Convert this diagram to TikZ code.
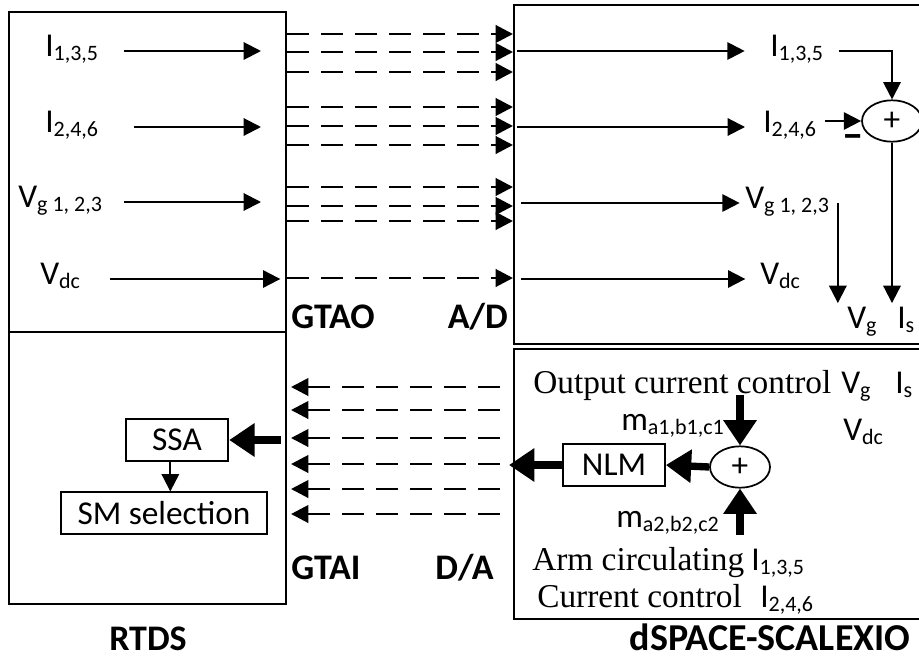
\documentclass[tikz,border=0pt]{standalone}
\usepackage{fontspec}
\setmainfont{Liberation Serif}
\setsansfont{Carlito}
\usetikzlibrary{arrows.meta,shapes.geometric,fit}
\newcommand\subi[1]{\textsubscript{\fontsize{16.5}{17}\selectfont #1}}

\begin{document}
\begin{tikzpicture}[x=0.75pt, y=-0.75pt,
  marco/.style={draw, line width=1.5pt, inner sep=0pt},
  caja/.style={draw, line width=1.3pt, font=\sffamily\fontsize{25}{30}\selectfont,
               inner sep=0pt, minimum height=31pt},
  suma/.style={ellipse, draw, line width=1.3pt, font=\sffamily\fontsize{25}{30}\selectfont,
               inner sep=0pt, minimum width=45pt, minimum height=31pt},
  rotulo/.style={font=\sffamily\fontsize{25}{30}\selectfont, inner sep=0pt},
  senal/.style={rotulo, text height=7.5pt, text depth=0pt, anchor=west},
  serif/.style={font=\rmfamily\fontsize{25}{30}\selectfont, inner sep=0pt, anchor=base west},
  puerto/.style={font=\sffamily\bfseries\fontsize{27}{32}\selectfont, inner sep=0pt},
  flecha/.style={-{Triangle[length=13pt, width=13pt]}, line width=1.5pt},
  punteada/.style={flecha, line width=2.2pt, dash pattern=on 16.5pt off 9pt},
  gruesa/.style={-{Triangle[length=19pt, width=24pt]}, line width=5.5pt}]
  \useasboundingbox (0,0) rectangle (919,660);
  \node[marco, fit={(9,12) (286,332)}] (rtdsA) {};
  \node[marco, fit={(9,332) (286,604)}] (rtdsB) {};
  \node[marco, fit={(514,5) (940,344)}] (dspA) {};
  \node[marco, fit={(514,349) (940,619)}] (dspB) {};
  \node[senal] (i135)  at (45,51)  {I\subi{1,3,5}};
  \node[senal] (i246)  at (45,127) {I\subi{2,4,6}};
  \node[senal] (vg123) at (18,202) {V\subi{g 1, 2,3}};
  \node[senal] (vdc)   at (40,279) {V\subi{dc}};
  \draw[flecha, shorten <=19pt, shorten >=19.5pt] (i135.east) -- (i135.east -| rtdsA.east);
  \draw[flecha, shorten <=26pt, shorten >=19.5pt] (i246.east) -- (i246.east -| rtdsA.east);
  \draw[flecha, shorten <=16pt, shorten >=19.5pt] (vg123.east) -- (vg123.east -| rtdsA.east);
  \draw[flecha, shorten <=22pt, shorten >=5pt] (vdc.east) -- (vdc.east -| rtdsA.east);
  \foreach \y in {34,52,72,107,126,145,187,206,221,278}
    \draw[punteada] (rtdsA.east |- 0,\y) -- (dspA.west |- 0,\y);
  \node[puerto, anchor=west] (gtao) at (291,317) {GTAO};
  \node[puerto, anchor=east] (ad)   at (508,317) {A/D};
  \node[senal] (r135) at (770,51)  {I\subi{1,3,5}};
  \node[senal] (r246) at (763,127) {I\subi{2,4,6}};
  \node[senal] (rvg)  at (745,203) {V\subi{g 1, 2,3}};
  \node[senal] (rdc)  at (760,279) {V\subi{dc}};
  \draw[flecha, shorten <=3pt, shorten >=19pt]   (dspA.west |- r135) -- (r135.west);
  \draw[flecha, shorten <=3pt, shorten >=13.5pt] (dspA.west |- r246) -- (r246.west);
  \draw[flecha, shorten <=6pt, shorten >=4pt]    (dspA.west |- rvg) -- (rvg.west);
  \draw[flecha, shorten <=6pt, shorten >=11pt]   (dspA.west |- rdc) -- (rdc.west);
  \node[suma] (sumA) at (892,121) {+};
  \node[puerto, font=\sffamily\bfseries\fontsize{32}{32}\selectfont] (menos) at (853,142) {--};
  \draw[flecha, shorten <=11pt] (r135.east) -| (sumA.north);
  \draw[flecha, shorten <=6pt] (r246.east |- sumA.west) -- (sumA.west);
  \node[senal] (vgo) at (847,323) {V\subi{g}};
  \node[senal] (iso) at (897,323) {I\subi{s}};
  \coordinate (tapvg) at ([xshift=6pt]rvg.east);
  \draw[flecha, shorten >=11pt] (tapvg) -- (tapvg |- vgo.north);
  \draw[flecha, shorten >=11pt] (sumA.south) -- (sumA.south |- iso.north);
  \node[caja, minimum width=77pt]    (ssa) at (177,440) {SSA};
  \node[caja, minimum width=154.5pt] (sm)  at (164,513) {SM selection};
  \coordinate (ssaout) at ([xshift=-5pt]ssa.south);
  \draw[flecha] (ssaout) -- (ssaout |- sm.north);
  \draw[gruesa, shorten <=4.5pt] (rtdsB.east |- ssa.east) -- (ssa.east);
  \foreach \y in {387,410,438,464,489,514}
    \draw[punteada, shorten <=10pt, shorten >=3pt] (dspB.west |- 0,\y) -- (rtdsB.east |- 0,\y);
  \node[puerto, anchor=west] (gtai) at (291,568) {GTAI};
  \node[puerto, anchor=east] (da)   at (494,568) {D/A};
  \node[serif] (occ) at (533,393) {Output current control};
  \node[rotulo, anchor=base west] (vgB)  at (841,393) {V\subi{g}};
  \node[rotulo, anchor=base west] (isB)  at (895,393) {I\subi{s}};
  \node[rotulo, anchor=base west] (vdcB) at (843,440) {V\subi{dc}};
  \node[rotulo, anchor=base west] (ma1)  at (621,430) {m\subi{a1,b1,c1}};
  \node[rotulo, anchor=base west] (ma2)  at (616,527) {m\subi{a2,b2,c2}};
  \node[serif] (arm) at (532,570) {Arm circulating};
  \node[rotulo, anchor=base west] (ib135) at (751,570) {I\subi{1,3,5}};
  \node[serif] (cc) at (537,607) {Current control};
  \node[rotulo, anchor=base west] (ib246) at (760,607) {I\subi{2,4,6}};
  \node[suma] (sumB) at (740,467) {+};
  \node[caja, minimum width=76.5pt] (nlm) at (614,465) {NLM};
  \draw[gruesa, shorten <=1.5pt] (sumB.north |- occ.base) -- (sumB.north);
  \draw[gruesa, shorten <=9pt] (sumB.south |- arm.north) -- (sumB.south);
  \draw[gruesa] (sumB.west) -- (nlm.east);
  \draw[gruesa, shorten >=-3pt] (nlm.west) -- (dspB.west |- nlm.west);
  \node[puerto, anchor=base] (rtds) at (148,650) {RTDS};
  \node[puerto, anchor=base, font=\sffamily\bfseries\fontsize{28.5}{32}\selectfont] (dsp) at (770,650) {dSPACE-SCALEXIO};
\end{tikzpicture}
\end{document}
